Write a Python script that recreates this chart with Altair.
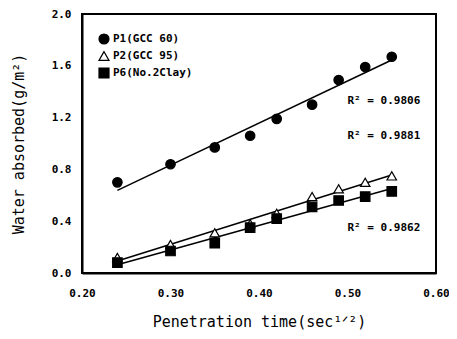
import altair as alt
import pandas as pd

x_vals = [0.24, 0.30, 0.35, 0.39, 0.42, 0.46, 0.49, 0.52, 0.55]
p1 = [0.70, 0.84, 0.97, 1.06, 1.19, 1.30, 1.49, 1.59, 1.67]
p2 = [0.12, 0.22, 0.31, 0.38, 0.46, 0.59, 0.65, 0.70, 0.75]
p6 = [0.08, 0.17, 0.23, 0.35, 0.42, 0.51, 0.56, 0.59, 0.63]
series_names = ["P1(GCC 60)", "P2(GCC 95)", "P6(No.2Clay)"]

r2_text = ["R² = 0.9806", "R² = 0.9881", "R² = 0.9862"]
r2_x = [0.5, 0.5, 0.5]
r2_y = [1.33, 1.06, 0.345]

x_ticks = [0.20, 0.30, 0.40, 0.50, 0.60]
y_ticks = [0.0, 0.4, 0.8, 1.2, 1.6, 2.0]

W, H = 354, 259

rows = []
for name, ys in zip(series_names, [p1, p2, p6]):
    for xv, yv in zip(x_vals, ys):
        rows.append({"series": name, "x": xv, "y": yv})
df = pd.DataFrame(rows)
ann = pd.DataFrame({"t": r2_text, "x": r2_x, "y": r2_y})

FONT = "DejaVu Sans Mono"

xs = alt.Scale(domain=[0.2, 0.6], nice=False)
ys_ = alt.Scale(domain=[0.0, 2.0], nice=False)

xaxis = alt.Axis(values=x_ticks, format=".2f", title="Penetration time(sec¹ᐟ²)",
                 grid=False, ticks=False, labelPadding=14, titlePadding=16,
                 labelFlush=False,
                 labelFont=FONT, labelFontSize=11, labelFontWeight="bold",
                 titleFont=FONT, titleFontSize=15, titleFontWeight="normal",
                 labelColor="black", titleColor="black",
                 domainColor="black", domainWidth=2)
yaxis = alt.Axis(values=y_ticks, format=".1f", title="Water absorbed(g/m²)",
                 grid=False, ticks=False, labelPadding=11, titlePadding=25,
                 labelFlush=False,
                 labelFont=FONT, labelFontSize=11, labelFontWeight="bold",
                 titleFont=FONT, titleFontSize=15, titleFontWeight="normal",
                 labelColor="black", titleColor="black",
                 domainColor="black", domainWidth=2)

legend = alt.Legend(title=None, orient="none", legendX=16, legendY=19,
                    labelFont=FONT, labelFontSize=11, labelFontWeight="bold",
                    labelColor="black", symbolSize=100, symbolStrokeColor="black",
                    symbolStrokeWidth=1.2, rowPadding=2, labelOffset=3, padding=0)

base = alt.Chart(df)

frame = alt.Chart(pd.DataFrame({"f": [0]})).mark_rect(
    filled=False, stroke="black", strokeWidth=2
).encode(x=alt.value(0), x2=alt.value(W), y=alt.value(0), y2=alt.value(H))

lines = base.transform_regression("x", "y", groupby=["series"]).mark_line(
    color="black", strokeWidth=1.5
).encode(
    x=alt.X("x:Q", scale=xs, axis=xaxis),
    y=alt.Y("y:Q", scale=ys_, axis=yaxis),
    detail="series:N",
)

points = base.mark_point(strokeWidth=1.2, opacity=1, size=90).encode(
    x=alt.X("x:Q", scale=xs),
    y=alt.Y("y:Q", scale=ys_),
    shape=alt.Shape("series:N", scale=alt.Scale(domain=series_names,
                    range=["circle", "triangle-up", "square"]), legend=legend),
    fill=alt.Fill("series:N", scale=alt.Scale(domain=series_names,
                  range=["black", "white", "black"]), legend=legend),
    stroke=alt.Stroke("series:N", scale=alt.Scale(domain=series_names,
                      range=["black", "black", "black"]), legend=legend),
)

texts = alt.Chart(ann).mark_text(align="left", baseline="middle", font=FONT,
                                 fontSize=11, fontWeight="bold", color="black").encode(
    x=alt.X("x:Q", scale=xs),
    y=alt.Y("y:Q", scale=ys_),
    text="t:N",
)

chart = alt.layer(lines, points, texts, frame).properties(
    width=W, height=H,
    autosize=alt.AutoSizeParams(type="none"),
    padding={"left": 74, "top": 6, "right": 13, "bottom": 58},
    background="white",
).configure_view(stroke=None)

chart.save("out.html", embed_options={"renderer": "svg", "actions": False})
